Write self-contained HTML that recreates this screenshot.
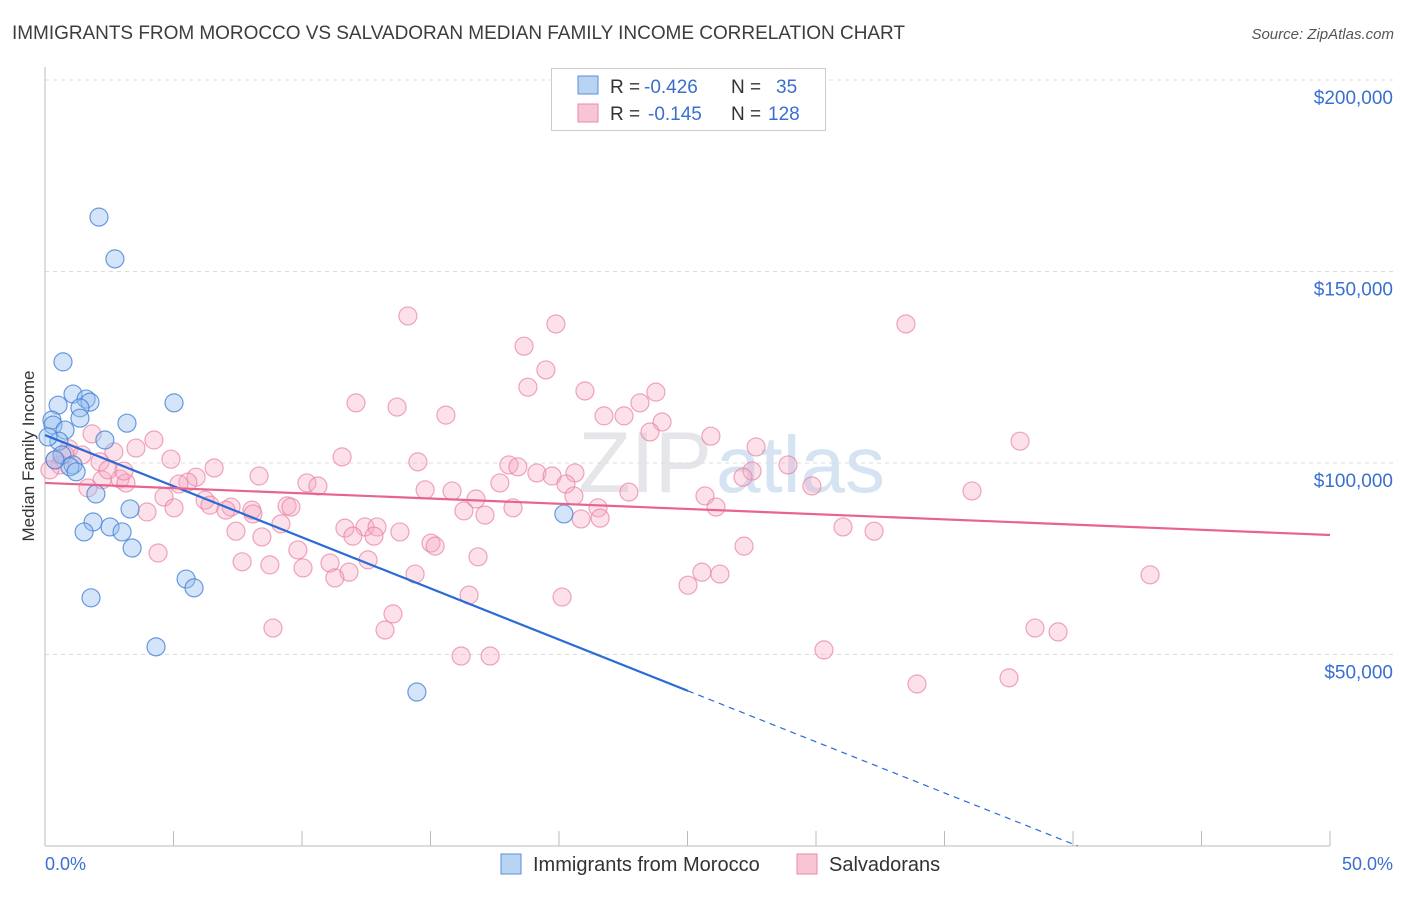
<!DOCTYPE html>
<html><head><meta charset="utf-8"><style>
body{margin:0;background:#fff;font-family:"Liberation Sans",sans-serif}
svg text{font-family:"Liberation Sans",sans-serif}
</style></head><body>
<svg id="chart" width="1406" height="892" xmlns="http://www.w3.org/2000/svg">
<text x="12" y="39" font-size="19" fill="#3d3d3d" textLength="893">IMMIGRANTS FROM MOROCCO VS SALVADORAN MEDIAN FAMILY INCOME CORRELATION CHART</text>
<text x="1394" y="39" font-size="15" fill="#555" font-style="italic" text-anchor="end">Source: ZipAtlas.com</text>
<text x="712" y="492" font-size="86" fill="#e6e6ea" text-anchor="end" font-family="Liberation Serif">ZIP</text>
<text x="716" y="492" font-size="80" fill="#d5e3f3">atlas</text>
<g id="grid"></g><g id="axes"></g><g id="pts"></g><g id="lines"></g>
<text x="34" y="456" font-size="17" fill="#333" text-anchor="middle" transform="rotate(-90 34 456)">Median Family Income</text>
<g>
<rect x="551.5" y="68.5" width="274" height="62" fill="#fff" stroke="#ccc"/>
<rect x="578" y="76" width="20" height="18" fill="#b9d3f3" stroke="#5a8fd8"/>
<rect x="578" y="104" width="20" height="18" fill="#f8c5d5" stroke="#e88aa8"/>
<text x="610" y="93" font-size="19" fill="#333">R =</text>
<text x="644" y="93" font-size="19" fill="#3a6fd0">-0.426</text>
<text x="731" y="93" font-size="19" fill="#333">N =</text>
<text x="776" y="93" font-size="19" fill="#3a6fd0">35</text>
<text x="610" y="120" font-size="19" fill="#333">R =</text>
<text x="648" y="120" font-size="19" fill="#3a6fd0">-0.145</text>
<text x="731" y="120" font-size="19" fill="#333">N =</text>
<text x="768" y="120" font-size="19" fill="#3a6fd0">128</text>
</g>
<g>
<rect x="501" y="854" width="20" height="20" fill="#b9d3f3" stroke="#5a8fd8"/>
<text x="533" y="871" font-size="20" fill="#333">Immigrants from Morocco</text>
<rect x="797" y="854" width="20" height="20" fill="#f8c5d5" stroke="#e88aa8"/>
<text x="829" y="871" font-size="20" fill="#333">Salvadorans</text>
</g>
<text x="45" y="870" font-size="18" fill="#3a6fd0">0.0%</text>
<text x="1393" y="870" font-size="18" fill="#3a6fd0" text-anchor="end">50.0%</text>
</svg>
<script>
const yTicks=[50000,100000,150000,200000];
const yTickLabels=["$50,000","$100,000","$150,000","$200,000"];
const moroccoX=[0.70,2.10,2.72,0.51,1.09,1.60,1.75,1.36,1.36,0.27,0.31,0.78,3.19,5.02,0.54,2.33,0.66,1.09,0.97,1.21,1.87,1.98,1.52,2.53,3.00,3.31,3.39,5.49,5.80,1.79,4.32,14.47,20.19,0.12,0.39];
const moroccoY=[126.4,164.2,153.3,115.1,118.0,116.7,115.9,114.4,111.7,111.2,109.9,108.6,110.4,115.7,105.7,106.0,102.1,99.5,99.0,97.7,84.6,91.9,82.0,83.3,82.0,88.0,77.8,69.7,67.4,64.8,52.0,40.2,86.7,106.8,100.8];
const salvX=[14.12,19.88,33.50,18.64,19.49,18.79,21.01,23.77,12.10,13.70,15.60,21.75,22.53,23.15,24.01,23.54,25.91,27.67,37.94,4.24,1.83,3.54,2.68,0.93,1.44,11.56,4.90,6.58,14.51,18.05,18.40,19.14,19.73,20.62,28.91,27.51,27.16,8.33,5.88,2.92,3.15,2.22,1.67,5.56,5.21,10.19,10.62,14.79,15.84,17.70,20.27,20.58,22.72,25.68,29.84,36.07,16.77,4.63,6.23,6.42,7.24,7.04,8.05,5.02,3.97,9.42,9.57,16.30,17.12,18.21,21.52,21.60,20.86,26.11,11.67,12.45,12.92,13.81,8.09,9.18,7.43,8.44,11.98,12.80,15.02,15.18,31.05,32.26,9.84,16.85,4.40,7.67,8.75,11.09,11.83,12.57,10.04,11.28,14.40,25.02,25.56,26.26,27.20,43.00,16.50,20.12,13.54,8.87,13.23,38.52,39.42,16.19,17.32,30.31,33.93,37.51,0.58,0.19,0.39,0.78,2.14,2.45,3.07];
const salvY=[138.4,136.3,136.3,130.5,124.3,119.8,118.8,118.5,115.7,114.6,112.5,112.3,112.3,115.7,110.7,108.1,107.0,104.2,105.7,106.0,107.6,103.9,102.9,103.7,102.1,101.6,101.0,98.7,100.3,99.5,99.0,97.4,96.6,97.4,99.5,97.9,96.3,96.6,96.3,95.8,94.8,95.6,93.5,95.0,94.5,94.8,94.0,93.0,92.7,94.8,94.5,91.4,92.4,91.4,94.0,92.7,90.6,91.1,90.3,89.0,88.5,87.7,87.7,88.3,87.2,88.8,88.5,87.5,86.4,88.3,88.3,85.6,85.4,88.5,83.0,83.3,83.3,82.0,86.7,84.1,82.2,80.7,80.9,80.9,79.1,78.3,83.3,82.2,77.3,75.5,76.5,74.2,73.4,73.9,71.5,74.7,72.6,70.0,71.0,68.1,71.5,71.0,78.3,70.8,65.5,65.0,60.6,56.9,56.4,56.9,55.9,49.6,49.6,51.2,42.3,43.9,99.5,98.2,100.8,102.1,100.3,98.2,97.9];
const moroccoTrend=[107.3,-2.67];
const salvTrend=[94.8,-0.272];
const NS="http://www.w3.org/2000/svg";
const X=v=>45+(v/50)*1285;
const Y=v=>846-(v/50000)*191.5;
const Yk=v=>Y(v*1000);
function mk(t,a,p){const e=document.createElementNS(NS,t);for(const k in a)e.setAttribute(k,a[k]);document.getElementById(p).appendChild(e);return e;}
yTicks.forEach((t,i)=>{
 const g=mk('line',{x1:45,x2:1393,y1:Y(t),y2:Y(t),stroke:'#ddd','stroke-dasharray':'4,4'},'grid');
 
 
 const tx=mk('text',{x:1393,y:Y(t)+24,'font-size':19,fill:'#3a6fd0','text-anchor':'end'},'grid');
 tx.textContent=yTickLabels[i];
 
 
});
const ax=mk('line',{x1:45,x2:45,y1:67,y2:846,stroke:'#bbb'},'axes');


const bx=mk('line',{x1:45,x2:1330,y1:846,y2:846,stroke:'#bbb'},'axes');


for(let p=5;p<=50;p+=5){const t=mk('line',{x1:X(p),x2:X(p),y1:831,y2:846,stroke:'#bbb'},'axes');
 
 }
salvX.forEach((v,i)=>{const c=mk('circle',{cx:X(v),cy:Yk(salvY[i]),r:9,fill:'rgba(246,170,195,0.35)',stroke:'rgba(232,128,160,0.7)','stroke-width':1.2},'pts');
 
 });
moroccoX.forEach((v,i)=>{const c=mk('circle',{cx:X(v),cy:Yk(moroccoY[i]),r:9,fill:'rgba(150,190,240,0.4)',stroke:'rgba(70,130,215,0.8)','stroke-width':1.2},'pts');
 
 });
const mEnd=25.02, mZero=-moroccoTrend[0]/moroccoTrend[1];
const l1=mk('line',{x1:X(0),y1:Yk(moroccoTrend[0]),x2:X(mEnd),y2:Yk(moroccoTrend[0]+moroccoTrend[1]*mEnd),stroke:'#2a6bd6','stroke-width':2.2},'lines');


const l2=mk('line',{x1:X(mEnd),y1:Yk(moroccoTrend[0]+moroccoTrend[1]*mEnd),x2:X(mZero),y2:Yk(0),stroke:'#2a6bd6','stroke-width':1.2,'stroke-dasharray':'6,5'},'lines');


const l3=mk('line',{x1:X(0),y1:Yk(salvTrend[0]),x2:X(50),y2:Yk(salvTrend[0]+salvTrend[1]*50),stroke:'#e8648e','stroke-width':2.2},'lines');


</script>
</body></html>
